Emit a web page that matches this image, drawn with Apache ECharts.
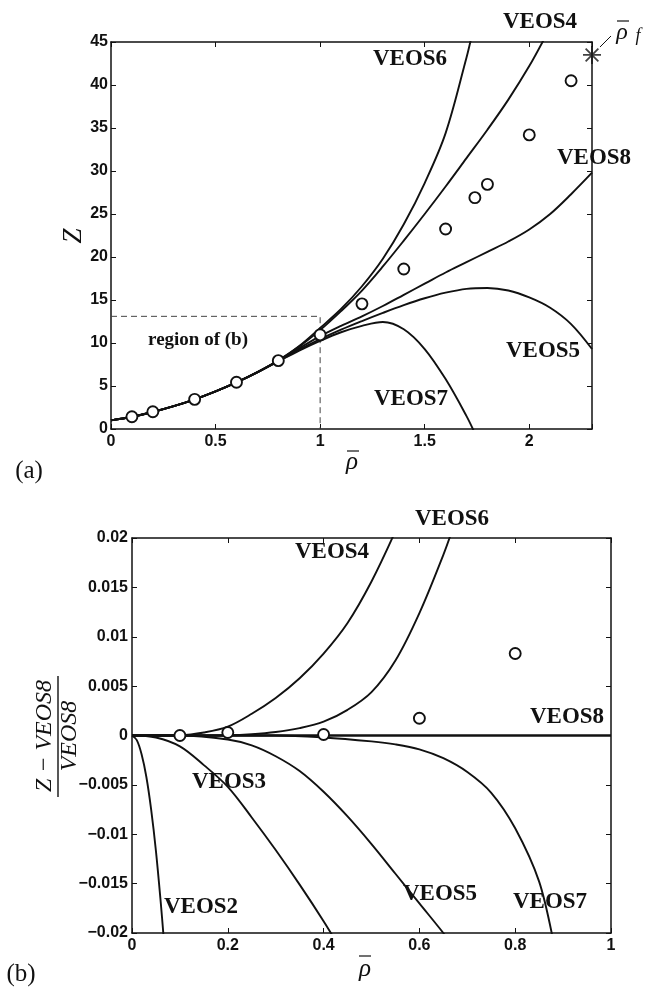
<!DOCTYPE html>
<html><head><meta charset="utf-8">
<script src="https://cdn.jsdelivr.net/npm/echarts@6/dist/echarts.min.js"></script>
<style>html,body{margin:0;padding:0;background:#fff}#c{width:655px;height:992px}</style>
</head><body><div id="c"></div>
<script>
// ---------- (a) Z vs rho ----------
const veos6Rho = [0,0.1,0.2,0.3,0.4,0.5,0.6,0.7,0.8,0.9,1.0,1.1,1.2,1.3,1.4,1.5,1.6,1.7,1.72];
const veos6Z   = [1.00,1.42,1.98,2.65,3.45,4.38,5.42,6.61,7.98,9.65,11.75,13.95,16.6,19.8,23.8,28.6,34.4,43.2,45.2];
const veos4Rho = [0,0.1,0.2,0.3,0.4,0.5,0.6,0.7,0.8,0.9,1.0,1.1,1.2,1.3,1.4,1.5,1.6,1.7,1.8,1.9,2.0,2.07];
const veos4Z   = [1.00,1.42,1.98,2.65,3.45,4.38,5.42,6.61,7.96,9.58,11.5,13.7,16.1,18.9,21.9,25.0,28.2,31.5,34.8,38.3,42.2,45.3];
const veos8Rho = [0,0.1,0.2,0.3,0.4,0.5,0.6,0.7,0.8,0.9,1.0,1.1,1.2,1.3,1.4,1.5,1.6,1.7,1.8,1.9,2.0,2.1,2.2,2.3];
const veos8Z   = [1.00,1.42,1.98,2.65,3.45,4.38,5.42,6.60,7.93,9.38,10.8,12.0,13.1,14.3,15.6,16.9,18.2,19.4,20.6,21.8,23.2,25.0,27.3,29.8];
const veos5Rho = [0,0.1,0.2,0.3,0.4,0.5,0.6,0.7,0.8,0.9,1.0,1.1,1.2,1.3,1.4,1.5,1.6,1.7,1.8,1.9,2.0,2.1,2.2,2.3];
const veos5Z   = [1.00,1.42,1.98,2.65,3.45,4.38,5.42,6.59,7.90,9.22,10.45,11.55,12.55,13.5,14.4,15.2,15.85,16.3,16.4,16.1,15.3,14.1,12.2,9.3];
const veos7Rho = [0,0.1,0.2,0.3,0.4,0.5,0.6,0.7,0.8,0.9,1.0,1.1,1.2,1.3,1.4,1.5,1.6,1.7,1.74];
const veos7Z   = [1.00,1.42,1.98,2.65,3.45,4.38,5.42,6.58,7.87,9.12,10.25,11.25,12.0,12.45,11.6,9.3,5.8,1.5,-0.5];
const dataRho  = [0.1,0.2,0.4,0.6,0.8,1.0,1.2,1.4,1.6,1.74,1.8,2.0,2.2];
const dataZ    = [1.43,2.0,3.45,5.43,7.95,10.95,14.55,18.6,23.25,26.9,28.45,34.2,40.5];
const rhoF = [2.3], zF = [43.5];
const regionRho = [0,1,1], regionZ = [13.1,13.1,0];
const topXTicks = [0,0.5,1,1.5,2], topXLabels = ['0','0.5','1','1.5','2'];
const topYTicks = [0,5,10,15,20,25,30,35,40,45], topYLabels = ['0','5','10','15','20','25','30','35','40','45'];

// ---------- (b) relative deviation ----------
const b2Rho = [0,0.01,0.02,0.03,0.04,0.05,0.06,0.067];
const b2V   = [0,-0.00047,-0.0019,-0.0042,-0.0075,-0.0117,-0.0169,-0.021];
const b3Rho = [0,0.05,0.1,0.15,0.2,0.25,0.3,0.35,0.4,0.43];
const b3V   = [0,-0.0002,-0.0011,-0.003,-0.0052,-0.0083,-0.0116,-0.0151,-0.0188,-0.0212];
const b4Rho = [0,0.05,0.1,0.15,0.2,0.25,0.3,0.35,0.4,0.45,0.5,0.55];
const b4V   = [0,0,0.00002,0.0003,0.0009,0.0022,0.0038,0.0058,0.0083,0.0114,0.0156,0.0207];
const b6Rho = [0,0.1,0.2,0.25,0.3,0.35,0.4,0.45,0.5,0.55,0.6,0.65,0.67];
const b6V   = [0,0,0.00003,0.00013,0.00035,0.00075,0.0014,0.0026,0.0044,0.0076,0.0124,0.0183,0.021];
const b5Rho = [0,0.1,0.2,0.25,0.3,0.35,0.4,0.45,0.5,0.55,0.6,0.65,0.67];
const b5V   = [0,0,-0.0004,-0.001,-0.0021,-0.0036,-0.0057,-0.0082,-0.011,-0.014,-0.0170,-0.0200,-0.0213];
const b7Rho = [0,0.3,0.4,0.5,0.55,0.6,0.65,0.7,0.75,0.8,0.85,0.88];
const b7V   = [0,0,-0.0002,-0.0006,-0.0009,-0.0014,-0.0023,-0.0037,-0.0058,-0.0094,-0.0148,-0.0209];
const b8Rho = [0,1], b8V = [0,0];
const bDataRho = [0.1,0.2,0.4,0.6,0.8];
const bDataV   = [0,0.0003,0.0001,0.00175,0.0083];
const botXTicks = [0,0.2,0.4,0.6,0.8,1], botXLabels = ['0','0.2','0.4','0.6','0.8','1'];
const botYTicks = [-0.02,-0.015,-0.01,-0.005,0,0.005,0.01,0.015,0.02];
const botYLabels = ['\u22120.02','\u22120.015','\u22120.01','\u22120.005','0','0.005','0.01','0.015','0.02'];

function pairs(xs, ys){ return xs.map((x,i)=>[x, ys[i]]); }
function lab(ticks, labels){ return v => { for (let i=0;i<ticks.length;i++) if (Math.abs(v-ticks[i])<1e-9) return labels[i]; return ''; }; }

const INK = '#111';
const tickFont = {fontFamily:'"Liberation Sans", Arial, sans-serif', fontWeight:'bold', fontSize:16, color:INK};
function axis(type, grid, pos, min, max, interval, showLabel, ticks, labels, margin){
  return {type:'value', gridIndex:grid, position:pos, min, max, interval,
    axisLine:{show:true, onZero:false, lineStyle:{color:INK, width:1.5}},
    axisTick:{show:true, inside:true, length:5, lineStyle:{color:INK, width:1}},
    splitLine:{show:false},
    axisLabel: showLabel ? Object.assign({show:true, margin, formatter: lab(ticks, labels), showMaxLabel:true}, tickFont) : {show:false}
  };
}

const lineS = (name, xi, yi, data, w) => ({type:'line', name, xAxisIndex:xi, yAxisIndex:yi, data, showSymbol:false, symbol:'none', smooth:0.35, lineStyle:{color:INK, width:w||1.9}, z:3, silent:true});
const circS = (xi, yi, data) => ({type:'scatter', xAxisIndex:xi, yAxisIndex:yi, data, symbol:'circle', symbolSize:11, itemStyle:{color:'#fff', borderColor:INK, borderWidth:1.9, opacity:1}, z:5, silent:true});

const starPath = 'path://M0,-10L0,10M-10,0L10,0M-7.07,-7.07L7.07,7.07M-7.07,7.07L7.07,-7.07';

const serifB = '"Liberation Serif", "Times New Roman", serif';
function T(text, x, y, size, opts){
  opts = opts || {};
  return {type:'text', x, y, rotation: opts.rot||0, z:100, silent:true,
    style:{text, fill:INK, font:(opts.italic?'italic ':'') + (opts.bold===false?'':'bold ') + size + 'px ' + serifB,
      align:'center', verticalAlign:'middle', textAlign:'center', textVerticalAlign:'middle'}};
}
function L(x1,y1,x2,y2,w){ return {type:'line', z:100, silent:true, shape:{x1,y1,x2,y2}, style:{stroke:INK, lineWidth:w||1.2}}; }

const option = {
  animation:false,
  backgroundColor:'#fff',
  grid:[
    {left:111, top:42, width:481, height:387},
    {left:132, top:538, width:479, height:395}
  ],
  xAxis:[
    axis('x',0,'bottom',0,2.3,0.5,true,topXTicks,topXLabels,5),
    axis('x',0,'top',0,2.3,0.5,false),
    axis('x',1,'bottom',0,1,0.2,true,botXTicks,botXLabels,5),
    axis('x',1,'top',0,1,0.2,false)
  ],
  yAxis:[
    axis('y',0,'left',0,45,5,true,topYTicks,topYLabels,3),
    axis('y',0,'right',0,45,5,false),
    axis('y',1,'left',-0.02,0.02,0.005,true,botYTicks,botYLabels,4),
    axis('y',1,'right',-0.02,0.02,0.005,false)
  ],
  series:[
    {type:'line', xAxisIndex:0, yAxisIndex:0, data:pairs(regionRho, regionZ), showSymbol:false, symbol:'none',
      lineStyle:{color:'#444', width:1, type:[6,4]}, z:2, silent:true},
    lineS('VEOS6',0,0,pairs(veos6Rho,veos6Z)),
    lineS('VEOS4',0,0,pairs(veos4Rho,veos4Z)),
    lineS('VEOS8',0,0,pairs(veos8Rho,veos8Z)),
    lineS('VEOS5',0,0,pairs(veos5Rho,veos5Z)),
    lineS('VEOS7',0,0,pairs(veos7Rho,veos7Z)),
    circS(0,0,pairs(dataRho,dataZ)),
    {type:'scatter', xAxisIndex:0, yAxisIndex:0, data:pairs(rhoF,zF), symbol:starPath, symbolSize:18, clip:false,
      itemStyle:{color:'none', borderColor:INK, borderWidth:1.8}, z:6, silent:true},
    lineS('VEOS2b',2,2,pairs(b2Rho,b2V)),
    lineS('VEOS3b',2,2,pairs(b3Rho,b3V)),
    lineS('VEOS4b',2,2,pairs(b4Rho,b4V)),
    lineS('VEOS6b',2,2,pairs(b6Rho,b6V)),
    lineS('VEOS5b',2,2,pairs(b5Rho,b5V)),
    lineS('VEOS7b',2,2,pairs(b7Rho,b7V)),
    lineS('VEOS8b',2,2,pairs(b8Rho,b8V),2.3),
    circS(2,2,pairs(bDataRho,bDataV))
  ],
  graphic:[
    // panel (a) annotations
    T('VEOS6',410,59,23), T('VEOS4',540,22,23), T('VEOS8',594,158,23), T('VEOS5',543,351,23), T('VEOS7',411,399,23),
    T('region of (b)',198,340,19),
    T('(a)',29,471,25,{bold:false}),
    T('\u03C1',352,462,25,{italic:true,bold:false}), L(347,451,359,451,1.2),
    T('Z',74,236,27,{italic:true,bold:false,rot:Math.PI/2}),
    T('\u03C1',622,33,24,{italic:true,bold:false}), L(617,21,629,21,1.2),
    T('f',638,36,18,{italic:true,bold:false}),
    L(600,47,611,36,1),
    // panel (b) annotations
    T('VEOS6',452,519,23), T('VEOS4',332,552,23), T('VEOS8',567,717,23), T('VEOS3',229,782,23),
    T('VEOS2',201,907,23), T('VEOS5',440,894,23), T('VEOS7',550,902,23),
    T('(b)',21,974,25,{bold:false}),
    T('\u03C1',365,969,25,{italic:true,bold:false}), L(359,956,371,956,1.2),
    T('Z \u2212 VEOS8',45,736,24,{italic:true,bold:false,rot:Math.PI/2}),
    L(58,676,58,797,1.4),
    T('VEOS8',70,736,24,{italic:true,bold:false,rot:Math.PI/2})
  ]
};
const chart = echarts.init(document.getElementById('c'), null, {renderer:'canvas'});
chart.setOption(option);
</script>
</body></html>
